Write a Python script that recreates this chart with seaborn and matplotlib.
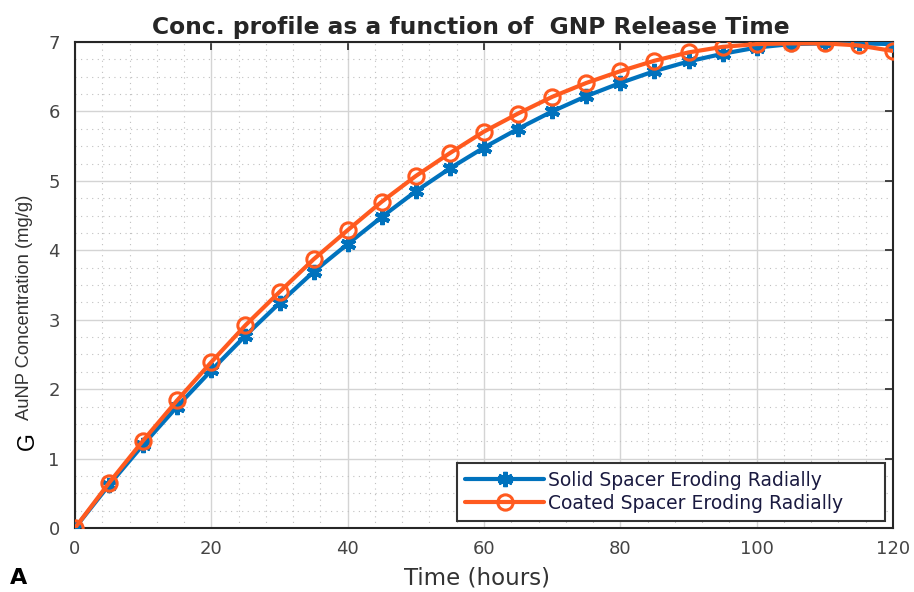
import matplotlib
matplotlib.use("Agg")
import matplotlib.pyplot as plt
import seaborn as sns
import numpy as np
from matplotlib.ticker import MultipleLocator

time_hours = [0, 5, 10, 15, 20, 25, 30, 35, 40, 45, 50, 55, 60, 65, 70, 75, 80, 85, 90, 95, 100, 105, 110, 115, 120]
solid_conc = [0.0, 0.62, 1.20, 1.75, 2.27, 2.77, 3.24, 3.69, 4.09, 4.48, 4.85, 5.18, 5.48, 5.75, 6.00, 6.22, 6.41, 6.58, 6.72, 6.83, 6.92, 6.97, 6.98, 6.98, 6.97]
coated_conc = [0.0, 0.65, 1.26, 1.84, 2.39, 2.92, 3.40, 3.87, 4.29, 4.70, 5.07, 5.40, 5.71, 5.97, 6.21, 6.41, 6.58, 6.73, 6.85, 6.93, 6.97, 6.98, 6.98, 6.95, 6.87]
x_ticks = [0, 20, 40, 60, 80, 100, 120]
y_ticks = [0, 1, 2, 3, 4, 5, 6, 7]
solid_label = "Solid Spacer Eroding Radially"
coated_label = "Coated Spacer Eroding Radially"

sns.set_style("white")
plt.rcParams['font.family'] = ['DejaVu Sans']

W, H = 914, 592
fig = plt.figure(figsize=(9.14, 5.92), dpi=100)
ax = fig.add_axes([75 / W, 1 - 528 / H, (893 - 75) / W, (528 - 42) / H])

blue = "#0072BD"
orange = "#FF5A1F"

sns.lineplot(x=time_hours, y=solid_conc, ax=ax, color=blue, linewidth=3,
             marker=(6, 2, 0), markersize=11, markeredgewidth=3, markeredgecolor=blue,
             label=solid_label, zorder=3)
sns.lineplot(x=time_hours, y=coated_conc, ax=ax, color=orange, linewidth=3,
             marker='o', markersize=11, markerfacecolor='none', markeredgewidth=2.2,
             markeredgecolor=orange, label=coated_label, zorder=4)

ax.set_xlim(0, 120)
ax.set_ylim(0, 7)
ax.set_xticks(x_ticks)
ax.set_yticks(y_ticks)
ax.xaxis.set_minor_locator(MultipleLocator(4))
ax.yaxis.set_minor_locator(MultipleLocator(0.25))
ax.grid(which='major', color='#d4d4d4', linewidth=1.0, linestyle='-')
ax.grid(which='minor', color='#c0c0c0', linewidth=0.8, linestyle=(0, (1, 4)))
ax.set_axisbelow(True)
ax.tick_params(which='major', direction='in', length=6, width=1.2, top=True, right=True,
               labelsize=13, labelcolor='#444444', color='#262626')
ax.tick_params(axis='x', which='major', pad=9)
ax.tick_params(axis='y', which='major', pad=11)
ax.tick_params(which='minor', length=0)
for s in ax.spines.values():
    s.set_color('#262626')
    s.set_linewidth(1.5)

ax.set_xlabel("Time (hours)", fontsize=16.5, color='#333333')
ax.xaxis.set_label_coords(0.492, -0.08)
ax.set_ylabel("AuNP Concentration (mg/g)", fontsize=13.2, color='#333333',
              family=['Liberation Sans'])
ax.yaxis.set_label_coords(-0.0513, 0.455)
fig.text(27 / W, 1 - 441 / H, "G", fontsize=16.5, color='black', rotation=90,
         ha='center', va='center', family=['Liberation Sans'])

ax.set_title("Conc. profile as a function of  GNP Release Time", fontsize=16.8,
             fontweight='bold', color='#262626', pad=6, x=0.484)
fig.text(19 / W, 1 - 578 / H, "A", fontsize=16, fontweight='bold', color='black',
         ha='center', va='center')

leg = ax.legend(loc='lower left', bbox_to_anchor=(0.467, 0.014, 0.5235, 0.12), mode='expand',
                fontsize=13.5, frameon=True, fancybox=False, edgecolor='#333333', framealpha=1,
                handlelength=4.2, handletextpad=0.2, borderpad=0.45, labelspacing=0.2,
                borderaxespad=0)
leg.get_frame().set_linewidth(1.5)
for t in leg.get_texts():
    t.set_color('#1a1a40')

fig.savefig("out.png", dpi=100)
